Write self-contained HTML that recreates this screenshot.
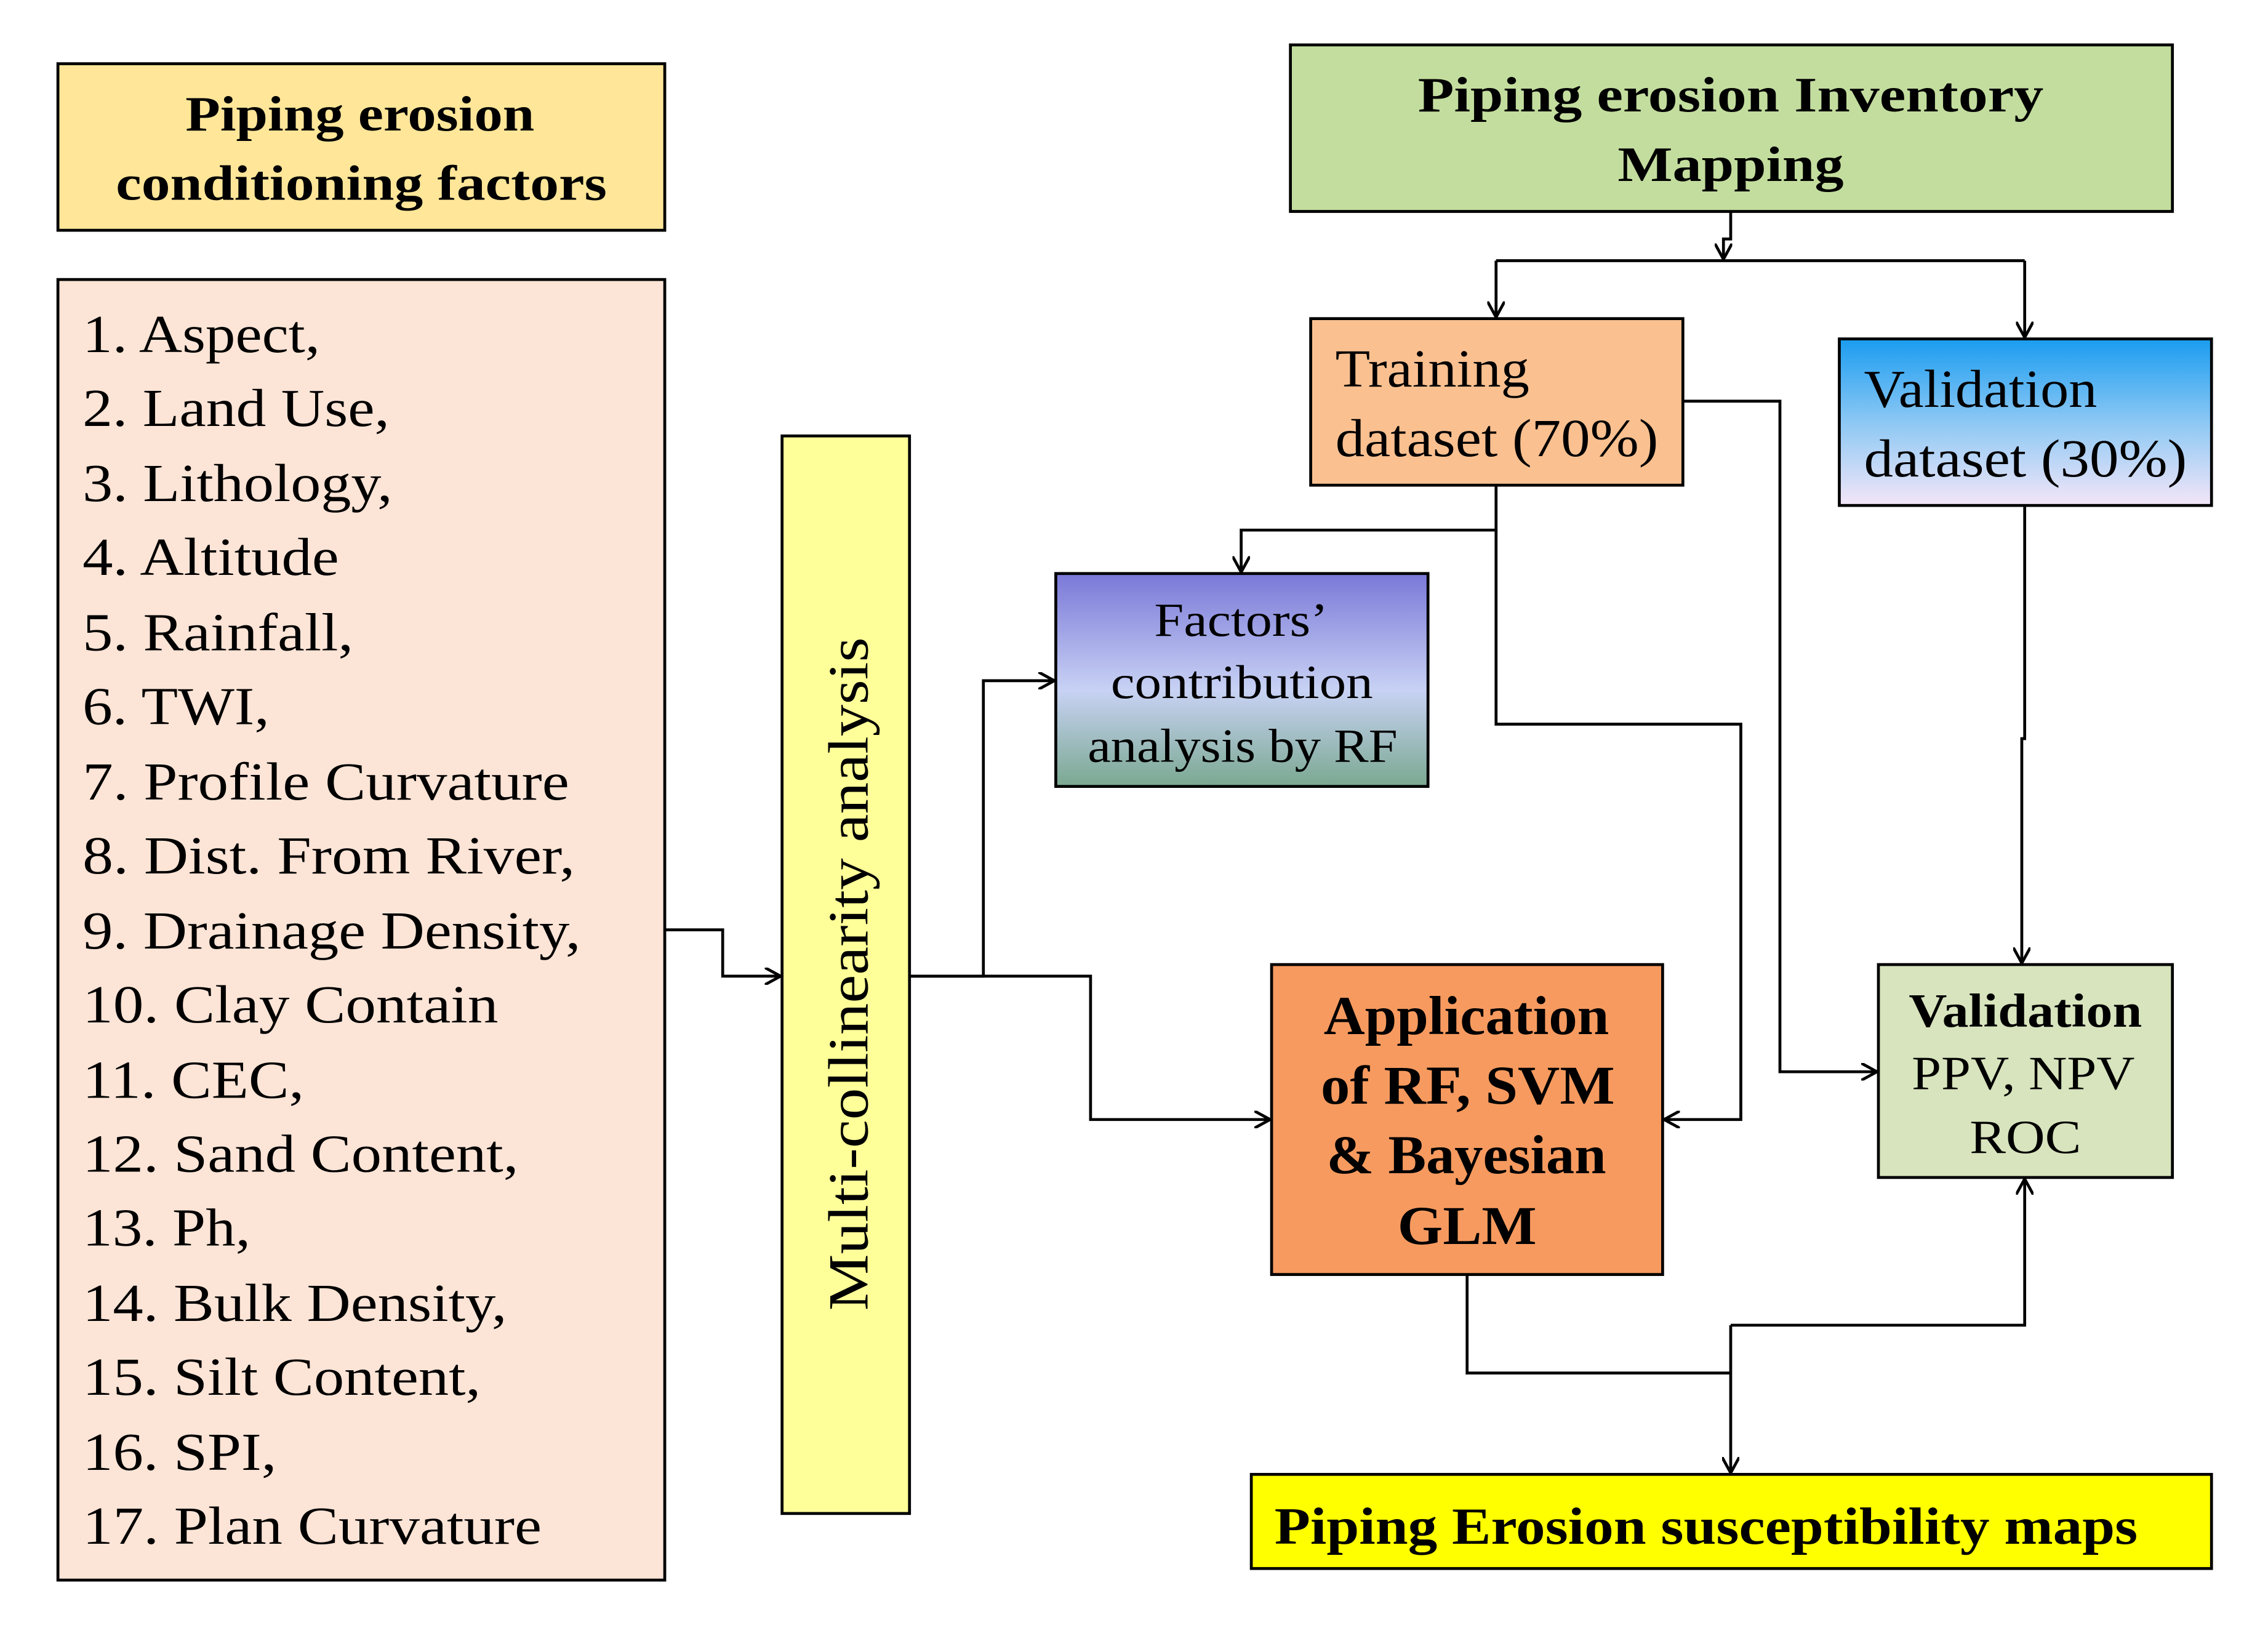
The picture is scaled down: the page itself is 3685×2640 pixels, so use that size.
<!DOCTYPE html>
<html><head><meta charset="utf-8"><style>
html,body{margin:0;padding:0;background:#fff;}
svg{display:block;}
text{font-family:"Liberation Serif",serif;fill:#000;}
.b{font-weight:bold;}
</style></head><body>
<svg width="3685" height="2640" viewBox="0 0 1566 1122" preserveAspectRatio="none" xmlns="http://www.w3.org/2000/svg">
<defs>
<marker id="a" markerWidth="12" markerHeight="12" refX="10" refY="6" orient="auto" markerUnits="userSpaceOnUse">
<path d="M0,0 L11,6 L0,12" fill="none" stroke="#000" stroke-width="2"/>
</marker>
<linearGradient id="gv" x1="0" y1="0" x2="0" y2="1"><stop offset="0" stop-color="#1a9cf0"/><stop offset="0.5" stop-color="#8cc8f4"/><stop offset="1" stop-color="#f4e6f8"/></linearGradient>
<linearGradient id="gf" x1="0" y1="0" x2="0" y2="1"><stop offset="0" stop-color="#7a78d8"/><stop offset="0.55" stop-color="#c8d2f4"/><stop offset="1" stop-color="#7aa890"/></linearGradient>
</defs>
<rect width="1566" height="1122" fill="#fff"/>
<g stroke="#000" stroke-width="2">
<rect x="40" y="44" width="419" height="115" fill="#FFE699"/>
<rect x="40" y="193" width="419" height="898" fill="#FCE4D6"/>
<rect x="540" y="301" width="88" height="744" fill="#FFFF99"/>
<rect x="891" y="31" width="609" height="115" fill="#C3DD9E"/>
<rect x="905" y="220" width="257" height="115" fill="#FAC090"/>
<rect x="1270" y="234" width="257" height="115" fill="url(#gv)"/>
<rect x="729" y="396" width="257" height="147" fill="url(#gf)"/>
<rect x="878" y="666" width="270" height="214" fill="#F79A5F"/>
<rect x="1297" y="666" width="203" height="147" fill="#D7E4BD"/>
<rect x="864" y="1018" width="663" height="65" fill="#FFFF00"/>
</g>
<g stroke="#000" stroke-width="2" fill="none">
<polyline points="1195,146 1195,165 1190,165 1190,178" marker-end="url(#a)"/>
<polyline points="1033,180 1398,180"/>
<polyline points="1033,180 1033,218" marker-end="url(#a)"/>
<polyline points="1398,180 1398,232" marker-end="url(#a)"/>
<polyline points="459,642 499,642 499,674 538,674" marker-end="url(#a)"/>
<polyline points="628,674 679,674 679,470 727,470" marker-end="url(#a)"/>
<polyline points="628,674 753,674 753,773 876,773" marker-end="url(#a)"/>
<polyline points="1033,335 1033,366 857,366 857,394" marker-end="url(#a)"/>
<polyline points="1033,366 1033,500 1202,500 1202,773 1150,773" marker-end="url(#a)"/>
<polyline points="1162,277 1229,277 1229,740 1295,740" marker-end="url(#a)"/>
<polyline points="1398,349 1398,510 1396,510 1396,664" marker-end="url(#a)"/>
<polyline points="1013,880 1013,948 1195,948"/>
<polyline points="1195,915 1398,915 1398,815" marker-end="url(#a)"/>
<polyline points="1195,915 1195,1016" marker-end="url(#a)"/>
</g>
<g font-size="34">
<text x="128" y="90" class="b" textLength="241" lengthAdjust="spacingAndGlyphs">Piping erosion</text>
<text x="80" y="138" class="b" textLength="339" lengthAdjust="spacingAndGlyphs">conditioning factors</text>
<text x="979" y="77" class="b" textLength="432" lengthAdjust="spacingAndGlyphs">Piping erosion  Inventory</text>
<text x="1117" y="125" class="b" textLength="156" lengthAdjust="spacingAndGlyphs">Mapping</text>
</g>
<g font-size="37">
<text x="57" y="243" textLength="164" lengthAdjust="spacingAndGlyphs">1. Aspect,</text>
<text x="57" y="294" textLength="212" lengthAdjust="spacingAndGlyphs">2. Land Use,</text>
<text x="57" y="346" textLength="214" lengthAdjust="spacingAndGlyphs">3. Lithology,</text>
<text x="57" y="397" textLength="177" lengthAdjust="spacingAndGlyphs">4. Altitude</text>
<text x="57" y="449" textLength="187" lengthAdjust="spacingAndGlyphs">5. Rainfall,</text>
<text x="57" y="500" textLength="129" lengthAdjust="spacingAndGlyphs">6. TWI,</text>
<text x="57" y="552" textLength="336" lengthAdjust="spacingAndGlyphs">7. Profile Curvature</text>
<text x="57" y="603" textLength="340" lengthAdjust="spacingAndGlyphs">8. Dist. From River,</text>
<text x="57" y="655" textLength="344" lengthAdjust="spacingAndGlyphs">9. Drainage Density,</text>
<text x="57" y="706" textLength="287" lengthAdjust="spacingAndGlyphs">10. Clay Contain</text>
<text x="57" y="758" textLength="153" lengthAdjust="spacingAndGlyphs">11. CEC,</text>
<text x="57" y="809" textLength="301" lengthAdjust="spacingAndGlyphs">12. Sand Content,</text>
<text x="57" y="860" textLength="116" lengthAdjust="spacingAndGlyphs">13. Ph,</text>
<text x="57" y="912" textLength="293" lengthAdjust="spacingAndGlyphs">14. Bulk Density,</text>
<text x="57" y="963" textLength="275" lengthAdjust="spacingAndGlyphs">15. Silt Content,</text>
<text x="57" y="1015" textLength="134" lengthAdjust="spacingAndGlyphs">16. SPI,</text>
<text x="57" y="1066" textLength="317" lengthAdjust="spacingAndGlyphs">17. Plan Curvature</text>
</g>
<text x="-905" y="0" font-size="39" textLength="465" lengthAdjust="spacingAndGlyphs" transform="translate(599,0) rotate(-90)">Multi-collinearity analysis</text>
<g font-size="37">
<text x="922" y="267" textLength="134" lengthAdjust="spacingAndGlyphs">Training</text>
<text x="922" y="315" textLength="223" lengthAdjust="spacingAndGlyphs">dataset (70%)</text>
<text x="1287" y="281" textLength="161" lengthAdjust="spacingAndGlyphs">Validation</text>
<text x="1287" y="329" textLength="223" lengthAdjust="spacingAndGlyphs">dataset (30%)</text>
</g>
<g font-size="33">
<text x="797" y="439" textLength="120" lengthAdjust="spacingAndGlyphs">Factors’</text>
<text x="767" y="482" textLength="181" lengthAdjust="spacingAndGlyphs">contribution</text>
<text x="751" y="526" textLength="214" lengthAdjust="spacingAndGlyphs">analysis by RF</text>
</g>
<g font-size="38">
<text x="914" y="714" class="b" textLength="197" lengthAdjust="spacingAndGlyphs">Application</text>
<text x="912" y="762" class="b" textLength="203" lengthAdjust="spacingAndGlyphs">of RF, SVM</text>
<text x="916" y="810" class="b" textLength="193" lengthAdjust="spacingAndGlyphs">&amp; Bayesian</text>
<text x="965" y="859" class="b" textLength="96" lengthAdjust="spacingAndGlyphs">GLM</text>
</g>
<g font-size="33">
<text x="1318" y="709" class="b" textLength="161" lengthAdjust="spacingAndGlyphs">Validation</text>
<text x="1320" y="752" textLength="154" lengthAdjust="spacingAndGlyphs">PPV, NPV</text>
<text x="1360" y="796" textLength="77" lengthAdjust="spacingAndGlyphs">ROC</text>
</g>
<text x="880" y="1066" font-size="36" class="b" textLength="596" lengthAdjust="spacingAndGlyphs">Piping Erosion susceptibility maps</text>
</svg>
</body></html>
